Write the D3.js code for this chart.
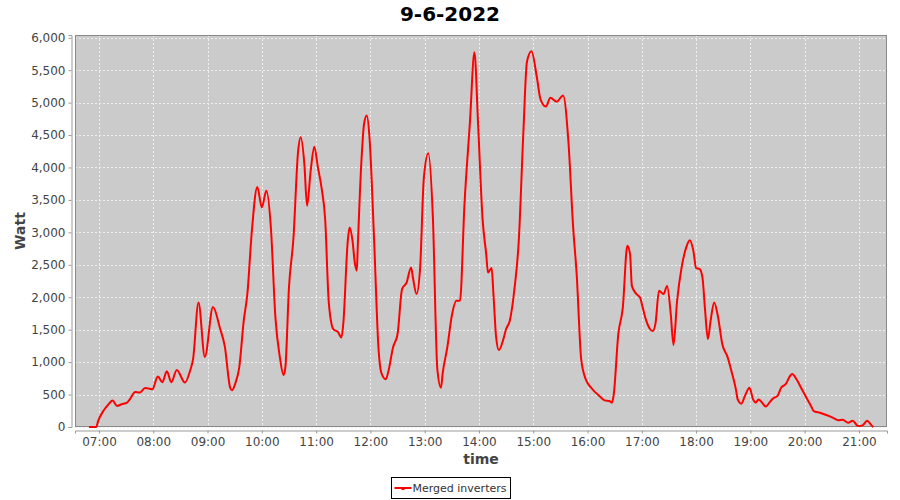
<!DOCTYPE html>
<html>
<head>
<meta charset="utf-8">
<script src="https://cdn.jsdelivr.net/npm/d3@7/dist/d3.min.js"></script>
<style>
  html, body { margin: 0; padding: 0; background: #fff; }
  svg { display: block; font-family: "DejaVu Sans", sans-serif; }
</style>
</head>
<body>
<svg id="chart" width="900" height="500"></svg>
<script>
const chartTitle = "9-6-2022";
const seriesName = "Merged inverters";
const xLabel = "time";
const yLabel = "Watt";

const times = [
  "06:49","06:57","06:59","07:05","07:10","07:15","07:20","07:25","07:31","07:34",
  "07:40","07:45","07:51","07:56","07:59","08:05","08:10","08:15","08:20","08:26",
  "08:35","08:41","08:44","08:50","08:57","09:06","09:14","09:19","09:25","09:27",
  "09:31","09:35","09:40","09:44","09:49","09:55","10:00","10:05","10:10","10:15",
  "10:20","10:24","10:26","10:30","10:35","10:40","10:43","10:47","10:50","10:54",
  "10:58","11:02","11:06","11:10","11:14","11:19","11:24","11:28","11:30","11:35",
  "11:37","11:40","11:43","11:45","11:46","11:50","11:53","11:56","11:59","12:04",
  "12:09","12:12","12:17","12:20","12:25","12:30","12:35","12:40","12:45","12:47",
  "12:51","12:55","12:59","13:04","13:09","13:14","13:18","13:20","13:25","13:30",
  "13:35","13:39","13:44","13:50","13:55","13:59","14:04","14:08","14:10","14:14",
  "14:16","14:19","14:22","14:27","14:30","14:34","14:39","14:44","14:49","14:53",
  "14:58","15:04","15:08","15:14","15:19","15:26","15:33","15:39","15:44","15:48",
  "15:53","15:58","16:04","16:14","16:19","16:24","16:27","16:29","16:34","16:39",
  "16:44","16:47","16:49","16:54","16:58","17:01","17:05","17:09","17:12","17:15",
  "17:19","17:24","17:28","17:32","17:35","17:39","17:44","17:49","17:53","17:57",
  "18:00","18:04","18:07","18:10","18:13","18:16","18:20","18:24","18:29","18:35",
  "18:39","18:44","18:46","18:50","18:54","18:59","19:03","19:06","19:09","19:13",
  "19:17","19:21","19:25","19:30","19:34","19:39","19:44","19:46","19:51","19:56",
  "20:02","20:07","20:10","20:17","20:24","20:31","20:37","20:42","20:48","20:53",
  "20:59","21:04","21:09","21:14","21:16"
];

const watts = [
  0,0,90,250,340,410,325,350,375,425,
  540,530,600,590,580,780,690,860,690,880,
  685,880,1045,1920,1080,1850,1510,1250,605,565,
  685,915,1635,2050,3025,3700,3385,3640,3075,1690,
  1070,800,915,2150,2920,4235,4465,4055,3410,3950,
  4320,4000,3690,3205,1920,1510,1465,1380,1585,2870,
  3075,2895,2510,2410,2765,4080,4670,4800,4465,2920,
  1200,840,735,865,1225,1430,2125,2225,2460,2305,
  2050,2460,3825,4220,3255,890,605,840,1225,1715,
  1945,1945,3435,4695,5775,4680,3205,2665,2380,2450,
  2050,1380,1185,1355,1510,1635,2100,2870,4515,5625,
  5790,5390,5055,4940,5075,5015,5110,4370,3100,2355,
  1045,735,605,465,410,400,375,505,1430,1840,
  2795,2665,2175,2050,1995,1840,1635,1510,1480,1585,
  2100,2050,2175,1740,1265,1945,2460,2765,2880,2715,
  2450,2435,2305,1790,1355,1635,1920,1715,1275,1070,
  865,580,425,360,480,605,425,375,425,375,
  315,375,440,480,605,660,790,815,735,605,
  450,325,245,220,185,145,105,110,65,95,
  15,25,95,25,0
];

const yTicks = [0,500,1000,1500,2000,2500,3000,3500,4000,4500,5000,5500,6000];
const xTickHours = ["07:00","08:00","09:00","10:00","11:00","12:00","13:00","14:00","15:00","16:00","17:00","18:00","19:00","20:00","21:00"];

const day = "2022-06-09";
const parse = d3.timeParse("%Y-%m-%d %H:%M:%S");
const toDate = s => parse(day + " " + (s.length === 5 ? s + ":00" : s));

const data = times.map((t, i) => ({ t: toDate(t), v: watts[i] }));

const plot = { left: 75, right: 887, top: 35, bottom: 427 };

const x = d3.scaleTime()
  .domain([toDate("06:33:30"), toDate("21:31:00")])
  .range([plot.left, plot.right]);
const y = d3.scaleLinear()
  .domain([0, 6042])
  .range([plot.bottom, plot.top]);

const svg = d3.select("#chart");

// Title
svg.append("text")
  .attr("x", 450).attr("y", 21)
  .attr("text-anchor", "middle")
  .attr("font-size", 20).attr("font-weight", "bold")
  .attr("fill", "#000")
  .text(chartTitle);

// Plot background
svg.append("rect")
  .attr("x", plot.left).attr("y", plot.top)
  .attr("width", plot.right - plot.left).attr("height", plot.bottom - plot.top)
  .attr("fill", "#cbcbcb");

// Gridlines
const grid = svg.append("g").attr("stroke", "#f0f0f0").attr("stroke-width", 1)
  .attr("stroke-dasharray", "2,2");
xTickHours.forEach(h => {
  const px = Math.round(x(toDate(h))) + 0.5;
  grid.append("line").attr("x1", px).attr("x2", px).attr("y1", plot.top).attr("y2", plot.bottom);
});
yTicks.forEach(v => {
  const py = Math.round(y(v)) + 0.5;
  grid.append("line").attr("x1", plot.left).attr("x2", plot.right).attr("y1", py).attr("y2", py);
});

// Plot outline
svg.append("rect")
  .attr("x", plot.left + 0.5).attr("y", plot.top + 0.5)
  .attr("width", plot.right - plot.left - 1).attr("height", plot.bottom - plot.top - 1)
  .attr("fill", "none").attr("stroke", "#8a8a8a").attr("stroke-width", 1);

// Line
const line = d3.line()
  .x(d => x(d.t)).y(d => y(d.v))
  .curve(d3.curveMonotoneX);

svg.append("path")
  .datum(data)
  .attr("fill", "none")
  .attr("stroke", "#ff0000")
  .attr("stroke-width", 2)
  .attr("stroke-linejoin", "round")
  .attr("d", line);

// Y axis
const yAxis = d3.axisLeft(y)
  .tickValues(yTicks)
  .tickSize(3).tickPadding(3)
  .tickFormat(d3.format(","));
const gy = svg.append("g")
  .attr("transform", `translate(${plot.left - 3.5},0)`)
  .call(yAxis);
gy.select(".domain").attr("stroke", "#999");
gy.selectAll(".tick line").attr("stroke", "#999");
gy.selectAll(".tick text").attr("fill", "#444").attr("font-size", 12)
  .attr("font-family", "DejaVu Sans, sans-serif");

// X axis
const xAxis = d3.axisBottom(x)
  .tickValues(xTickHours.map(toDate))
  .tickSize(3).tickPadding(4)
  .tickFormat(d3.timeFormat("%H:%M"));
const gx = svg.append("g")
  .attr("transform", `translate(0,${plot.bottom + 3.5})`)
  .call(xAxis);
gx.select(".domain").attr("stroke", "#999");
gx.selectAll(".tick line").attr("stroke", "#999");
gx.selectAll(".tick text").attr("fill", "#444").attr("font-size", 12)
  .attr("font-family", "DejaVu Sans, sans-serif");

// Axis labels
svg.append("text")
  .attr("x", (plot.left + plot.right) / 2).attr("y", 464)
  .attr("text-anchor", "middle")
  .attr("font-size", 14).attr("font-weight", "bold").attr("fill", "#444")
  .text(xLabel);
svg.append("text")
  .attr("transform", `translate(25,${(plot.top + plot.bottom) / 2}) rotate(-90)`)
  .attr("text-anchor", "middle")
  .attr("font-size", 14).attr("font-weight", "bold").attr("fill", "#444")
  .text(yLabel);

// Legend
const lg = svg.append("g");
const legText = lg.append("text")
  .attr("y", 492)
  .attr("font-size", 11).attr("fill", "#333")
  .text(seriesName);
const tw = legText.node().getComputedTextLength();
const boxW = 21 + tw + 4;
const boxX = Math.round(450 - boxW / 2) + 0.5;
legText.attr("x", boxX + 21);
lg.insert("rect", "text")
  .attr("x", boxX).attr("y", 477.5)
  .attr("width", boxW).attr("height", 21)
  .attr("fill", "#fff").attr("stroke", "#000").attr("stroke-width", 1);
lg.append("line")
  .attr("x1", boxX + 3).attr("x2", boxX + 20).attr("y1", 488).attr("y2", 488)
  .attr("stroke", "#ff0000").attr("stroke-width", 2);
lg.append("rect")
  .attr("x", boxX + 10).attr("y", 487).attr("width", 3).attr("height", 3)
  .attr("fill", "#ff0000");
</script>
</body>
</html>
